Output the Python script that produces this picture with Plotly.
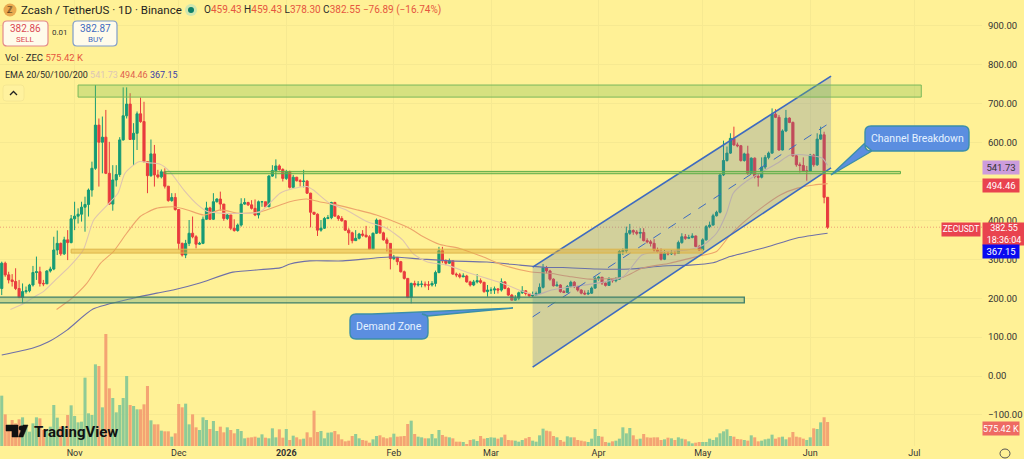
import pandas as pd
import plotly.graph_objects as go

# ---------- data ----------
close = [
290,260,247,243,225,202,217,219,234,266,
268,238,237,270,275,324,341,314,350,343,
404,411,416,434,441,478,534,645,601,614,
521,442,504,518,607,669,699,608,624,674,
654,551,515,571,517,512,525,488,451,459,
428,341,311,341,367,358,339,341,403,432,
403,448,455,442,405,414,380,374,388,442,
446,440,431,414,448,448,435,514,528,540,
531,508,525,485,511,502,500,501,470,421,
416,375,380,405,407,446,411,405,399,375,
368,348,354,365,362,358,326,367,401,368,
350,341,302,305,294,268,251,202,238,234,
236,236,234,234,238,266,322,296,290,296,
262,260,255,257,242,234,242,245,241,217,
221,221,224,221,242,225,208,195,200,214,
219,212,206,208,212,228,278,270,249,232,
234,217,215,230,241,230,221,213,211,213,
226,251,254,239,233,249,245,249,320,322,
367,374,370,367,369,348,345,341,324,320,
300,316,314,316,315,343,358,354,356,360,
333,324,350,384,388,412,421,517,554,573,
611,594,592,554,571,521,560,513,511,537,
562,573,673,665,581,630,663,652,566,543,
541,527,527,568,543,609,620,459.43,382.55]
high = [
294,294,268,262,277,247,238,230,237,283,
307,281,247,272,281,358,374,343,358,375,
414,448,431,448,461,482,551,748,662,667,
684,602,542,542,614,742,742,727,650,680,
716,705,551,608,594,530,531,534,488,470,
470,428,343,350,401,410,362,345,410,448,
435,470,457,474,442,418,414,403,392,457,
457,448,452,454,451,450,448,517,542,557,
544,534,530,528,517,512,506,530,504,471,
421,418,401,409,414,448,448,414,411,401,
380,371,375,368,375,386,362,369,405,401,
371,356,341,311,305,296,271,251,240,245,
244,245,243,244,244,271,332,332,300,302,
296,266,265,264,260,245,247,262,251,242,
234,228,230,226,251,244,228,211,208,217,
231,221,214,217,217,238,288,283,273,251,
243,236,221,234,245,244,232,223,220,221,
230,256,257,254,240,254,250,254,324,328,
384,391,377,375,380,380,354,350,352,330,
328,324,320,324,322,348,367,365,363,367,
361,337,354,388,397,417,425,521,605,590,
624,641,600,594,574,592,562,562,520,562,
568,577,688,686,671,634,684,665,654,568,
549,562,540,571,571,624,641,628,459.43]
low = [
208,255,238,230,221,200,187,212,215,230,
247,230,231,238,266,272,311,309,311,298,
341,375,392,397,371,410,461,530,487,521,
519,440,425,487,512,605,662,607,542,581,
651,549,470,512,487,508,508,482,448,448,
425,324,307,303,334,354,328,337,339,401,
401,401,446,425,399,401,375,371,371,384,
440,437,428,411,405,435,434,446,512,508,
528,500,504,482,485,500,487,485,468,382,
414,360,371,378,403,403,410,399,397,373,
337,341,347,351,358,356,326,326,365,365,
348,320,274,298,285,266,248,200,187,228,
230,228,228,221,230,230,264,290,285,288,
260,254,251,254,240,230,231,238,237,214,
204,211,211,212,217,223,206,194,193,195,
211,207,204,204,206,211,225,264,245,230,
230,214,213,214,228,226,217,210,208,208,
211,224,245,234,230,232,240,241,247,311,
316,363,363,362,354,346,341,333,320,316,
297,298,310,311,310,314,340,350,352,354,
331,322,322,348,380,387,410,418,514,551,
571,592,588,551,551,517,520,508,487,508,
532,557,571,663,579,580,627,650,564,538,
523,526,502,526,538,540,607,444,378.30]
volume_k = [
1208,760,504,624,544,640,688,464,344,544,
688,664,384,384,464,984,680,464,464,744,
976,720,568,584,1640,784,744,1960,1920,928,
2688,1384,1152,808,984,1152,1680,984,960,880,
880,1000,1440,616,520,520,368,352,352,224,
304,1008,928,1016,520,760,448,384,688,624,
408,600,360,464,328,448,384,304,408,360,
184,200,208,224,200,280,200,184,424,208,
400,200,408,144,248,208,160,176,328,208,
848,336,360,184,320,328,360,280,160,112,
128,240,288,184,144,128,80,160,240,256,
208,184,208,296,224,232,240,528,608,288,
224,208,184,184,288,184,384,264,224,208,
184,104,104,96,48,144,160,120,240,176,
192,208,200,176,208,272,144,136,128,104,
144,184,216,128,104,256,416,368,352,240,
208,144,104,232,208,208,144,128,112,96,
176,408,240,224,96,80,112,128,176,448,
304,432,256,160,176,288,208,200,208,208,
144,160,200,184,144,208,176,160,112,64,
80,96,96,96,176,144,208,304,352,400,
240,224,168,160,144,128,256,208,112,128,
160,176,272,176,208,224,160,208,336,224,
208,176,144,208,424,408,568,690,575.42]
first_open = 225
first_date = "2025-10-11"

ema20_day = [3,7,10,12.5,16,20,24,27,31,34,36,40,43,46,49,53,57,60,65,69,75,80.7,84.5,88.4,90.3,95,99.8,105.7,111.4,116,119,123,128.8,135.5,140.3,145,150.8,154.6,158.5,172.9,179.6,185,191,198,202.7,206.5,209.4,211.3,215,220,224,227.7,233.4,237,238.5]
ema20_val = [171,187,204,217,247,281,324,401,440,470,521,551,548,545,525,478,440,422,418,418,422,470,482,487,478,444,427,397,380,350,315,294,285,264,251,238,217,208,220,240,255,311,320,324,337,367,419,470,500,527,547,568,567,560,541.73]
ema50_day = [16.3,20.7,25,29,32.7,36.5,40.4,45,50,54,58.7,63.5,69,75,83.5,88.4,92,97,103,108.5,113,118,122,126.8,132.5,139,145,152.7,158.5,164,170,179.6,185,193,200.8,206.5,210,214,220,225,229.8,234.6,238.5]
ema50_val = [171,200,238,290,320,367,410,431,435,427,414,427,418,422,448,455,448,440,427,414,399,380,358,338,328,307,285,268,264,256,249,254,277,290,307,320,358,393,436,466,483,491,494.46]
ema200_day = [0.5,9.5,14,19.3,26.8,38.3,45.2,49.9,57.6,67.1,80.7,83.6,89.3,98.8,112.4,121,129.6,140.3,149.9,157.6,162.2,172,181.6,191,198.8,205.5,210.4,220,229.7,238.5]
ema200_val = [54,72,88,118,172,200,213,221,239,267,278,288,296,296,306,301,296,293,285,279,279,275,275,283,285,291,307,329,355,367.15]

month_ticks = ["2025-11-01","2025-12-01","2026-01-01","2026-02-01","2026-03-01","2026-04-01","2026-05-01","2026-06-01","2026-07-01"]
month_labels = ["Nov","Dec","<b>2026</b>","Feb","Mar","Apr","May","Jun","Jul"]
price_ticks = [900,800,700,600,500,400,300,200,100,0,-100]
price_labels = ["900.00","800.00","700.00","600.00"," ","400.00","300.00","200.00","100.00","0.00","\u2212100.00"]

zones = [
    ("2025-11-02","2026-07-03",748,717,"rgba(120,190,80,0.30)","#79B85A",1.0),
    ("2025-11-27","2026-06-27",526,520,"rgba(120,190,80,0.40)","#5FAE4A",1.0),
    ("2025-10-31","2026-05-01",326,316,"rgba(225,170,50,0.45)","#DDB54A",1.0),
    ("2025-10-01","2026-05-13",203,188,"rgba(110,170,130,0.40)","#3F7F6A",1.3),
]
channel_x = ["2026-03-13","2026-06-07"]
channel_upper = [280,771]
channel_mid = [152,653]
channel_lower = [23,535]
last_close = 382.55

# ---------- helpers ----------
W, H = 982, 446
def px(v): return v / W
def py(v): return 1 - v / H
BG = "#FFF196"
FONT = "Roboto, 'Noto Sans', sans-serif"
UP, DOWN = "#169B75", "#E83B3E"

opens = [first_open] + close[:-1]
dates = pd.date_range(first_date, periods=len(close), freq="D")
base = pd.Timestamp(first_date) - pd.Timedelta(hours=12)
def day_x(days): return [base + pd.Timedelta(days=d) for d in days]
vol_colors = ["#8FCB96" if c >= o else "#F4A473" for o, c in zip(opens, close)]

fig = go.Figure()
fig.add_bar(x=dates, y=volume_k, marker=dict(color=vol_colors, line_width=0), yaxis="y2", hoverinfo="skip")
fig.add_scatter(x=day_x(ema200_day), y=ema200_val, mode="lines", line=dict(color="#6F70A8", width=1.1, shape="spline", smoothing=0.6), hoverinfo="skip")
fig.add_scatter(x=day_x(ema50_day), y=ema50_val, mode="lines", line=dict(color="#EDA56B", width=1.1, shape="spline", smoothing=0.6), hoverinfo="skip")
fig.add_scatter(x=day_x(ema20_day), y=ema20_val, mode="lines", line=dict(color="#DFC5AF", width=1.1, shape="spline", smoothing=0.6), hoverinfo="skip")
fig.add_candlestick(x=dates, open=opens, high=high, low=low, close=close,
    increasing=dict(line=dict(color=UP, width=1), fillcolor=UP),
    decreasing=dict(line=dict(color=DOWN, width=1), fillcolor=DOWN),
    whiskerwidth=0, hoverinfo="skip")

shapes = []
# last-price dotted line
shapes.append(dict(type="line", xref="paper", x0=0, x1=1, yref="y", y0=last_close, y1=last_close,
                   line=dict(color="#E98A6E", width=0.8, dash="1px,2px"), layer="below"))
# channel
shapes.append(dict(type="path", xref="x", yref="y",
    path=f"M {channel_x[0]},{channel_upper[0]} L {channel_x[1]},{channel_upper[1]} L {channel_x[1]},{channel_lower[1]} L {channel_x[0]},{channel_lower[0]} Z",
    fillcolor="rgba(90,120,170,0.27)", line_width=0))
for arr, dash in ((channel_upper, "solid"), (channel_lower, "solid"), (channel_mid, "dash")):
    shapes.append(dict(type="line", xref="x", yref="y", x0=channel_x[0], x1=channel_x[1], y0=arr[0], y1=arr[1],
                       line=dict(color="#3E6BC0", width=1.6 if dash == "solid" else 1, dash=dash)))
# zones
for x0, x1, top, bottom, fill, edge, lw in zones:
    shapes.append(dict(type="rect", xref="x", yref="y", x0=x0, x1=x1, y0=bottom, y1=top,
                       fillcolor=fill, line=dict(color=edge, width=lw)))

def rounded(x0, y0, x1, y1, r, tail=None):
    """Rounded rectangle path in page pixels; tail = points inserted on the named edge."""
    def p(a, b): return f"{px(a):.5f},{py(b):.5f}"
    d = f"M {p(x0+r,y0)} "
    if tail and tail[0] == "top":
        for a, b in tail[1]:
            d += f"L {p(a,b)} "
    d += f"L {p(x1-r,y0)} Q {p(x1,y0)} {p(x1,y0+r)} L {p(x1,y1-r)} Q {p(x1,y1)} {p(x1-r,y1)} "
    d += f"L {p(x0+r,y1)} Q {p(x0,y1)} {p(x0,y1-r)} "
    if tail and tail[0] == "left":
        for a, b in tail[1]:
            d += f"L {p(a,b)} "
    d += f"L {p(x0,y0+r)} Q {p(x0,y0)} {p(x0+r,y0)} Z"
    return d

def panel(path, fill, edge, width=1.2):
    shapes.append(dict(type="path", xref="paper", yref="paper", path=path, fillcolor=fill, line=dict(color=edge, width=width)))

# callouts
panel(rounded(865,126,969,151,6,("left",[(872,151),(831,175),(865,143)])), "#5B8EE0", "#3B8FA8", 1.4)
panel(rounded(350,314,428,339,6,("top",[(372,314),(513,308),(428,316)])), "#5B8EE0", "#3B8FA8", 1.4)
# sell / buy / collapse buttons
panel(rounded(3,21,48,46,4), "#FFFBEA", "#E48A8A")
panel(rounded(73,21,117,46,4), "#FFFBEA", "#7F9CCB")
panel(rounded(3,85,24,101,3), "#FFF29E", "#F2E590", 0.8)
panel(f"M {px(10)},{py(95)} L {px(13.5)},{py(91.5)} L {px(17)},{py(95)}", "rgba(0,0,0,0)", "#222222", 1.3)
# logo circle and status dot
def dot(cx, cy, r, fill):
    shapes.append(dict(type="circle", xref="paper", yref="paper", x0=px(cx-r), x1=px(cx+r),
                       y0=py(cy+r), y1=py(cy-r), fillcolor=fill, line_width=0))
dot(10, 10, 6.5, "#E9A94F")
dot(191, 10, 6, "#CFE6B0")
dot(191, 10, 3, "#0F7F68")
# TradingView mark
panel(f"M {px(6)},{py(425)} L {px(18)},{py(425)} L {px(18)},{py(437)} L {px(12)},{py(437)} L {px(12)},{py(431)} L {px(6)},{py(431)} Z", "#111111", "#111111", 0.5)
dot(21.3, 428, 2.6, "#111111")
panel(f"M {px(23)},{py(425)} L {px(28)},{py(425)} L {px(23)},{py(437)} L {px(18.5)},{py(437)} Z", "#111111", "#111111", 0.5)
# settings glyph
shapes.append(dict(type="circle", xref="paper", yref="paper", x0=px(1000), x1=px(1010), y0=py(458), y1=py(449),
                   line=dict(color="#555555", width=1), fillcolor="rgba(0,0,0,0)"))

anns = []
def label(x, y, text, size=10, color="#2A2A2A", anchor="left"):
    anns.append(dict(xref="paper", yref="paper", x=px(x), y=py(y), text=text, showarrow=False,
                     xanchor=anchor, yanchor="middle", align=anchor, borderpad=0,
                     font=dict(family=FONT, size=size, color=color)))
def badge(x, y, w, h, text, bg, color="#FFFFFF", size=9.5):
    anns.append(dict(xref="paper", yref="paper", x=px(x), y=py(y), text=text, showarrow=False,
                     xanchor="left", yanchor="top", align="center", valign="middle", width=w, height=h,
                     bgcolor=bg, borderpad=0, font=dict(family=FONT, size=size, color=color)))

label(10, 10, "<b>\u2124</b>", 9, "#3A2A10", "center")
label(20, 10, "Zcash / TetherUS \u00b7 1D \u00b7 Binance", 11.5, "#1E1E1E")
R = "#E5573F"
label(203, 10, f"O<span style='color:{R}'>459.43</span> H<span style='color:{R}'>459.43</span> L<span style='color:{R}'>378.30</span> C<span style='color:{R}'>382.55</span> <span style='color:{R}'>\u221276.89 (\u221216.74%)</span>", 10)
label(25.5, 29, "382.86", 10, "#DB4A55", "center")
label(25.5, 39, "SELL", 8, "#DB4A55", "center")
label(60, 33, "0.01", 8, "#333333", "center")
label(95, 29, "382.87", 10, "#3F6CC0", "center")
label(95, 39, "BUY", 8, "#3F6CC0", "center")
label(4, 58, f"Vol \u00b7 ZEC <span style='color:{R}'>575.42 K</span>", 9.5)
label(4, 75, "EMA 20/50/100/200 <span style='color:#DCC6B6'>541.73</span> <span style='color:#E0604F'>494.46</span> <span style='color:#3B3BA8'>367.15</span>", 9)
label(917, 138, "Channel Breakdown", 10.5, "#E6F2FF", "center")
label(389, 326, "Demand Zone", 10.5, "#E6F2FF", "center")
label(33, 432, "<b>TradingView</b>", 15, "#111111")

badge(982, 160, 36, 13, "541.73", "#CC9CDC", "#333333")
badge(982, 178, 36, 13, "494.46", "#E9434F")
badge(941, 222, 38, 12.5, "ZECUSDT", "#E9434F", size=8.5)
badge(982, 222, 42, 21.5, "382.55<br>18:36:04", "#E9434F", size=9)
badge(982, 244, 36, 13, "367.15", "#0A0AF0")
badge(982, 421, 36, 13, "575.42 K", "#EE6A63", size=9)

fig.update_layout(
    width=1024, height=459, autosize=False,
    margin=dict(l=0, r=42, t=0, b=13, pad=0, autoexpand=False),
    paper_bgcolor=BG, plot_bgcolor=BG,
    showlegend=False, bargap=0.12, boxgap=0.12, dragmode=False, hovermode=False,
    shapes=shapes, annotations=anns,
    font=dict(family=FONT, size=9.5, color="#333333"),
    xaxis=dict(type="date", range=["2025-10-10 12:00", "2026-07-20 12:00"], rangeslider=dict(visible=False),
               tickmode="array", tickvals=month_ticks, ticktext=month_labels, showgrid=True, gridcolor="#F6E991",
               gridwidth=1, ticks="", zeroline=False, showline=False, automargin=False,
               tickfont=dict(family=FONT, size=9, color="#333333")),
    yaxis=dict(side="right", range=[-179.9, 966.6], tickmode="array", tickvals=price_ticks, ticktext=price_labels,
               showgrid=True, gridcolor="#F6E991", gridwidth=1, zeroline=False, showline=False, automargin=False,
               ticks="outside", ticklen=3, tickcolor=BG, tickfont=dict(family=FONT, size=9.5, color="#333333")),
    yaxis2=dict(overlaying="y", side="right", range=[0, 10704], visible=False, showgrid=False),
)

fig.write_html("out.html", config=dict(displayModeBar=False, staticPlot=True),
               post_script="document.body.style.margin='0';document.body.style.overflow='hidden';document.body.style.background='#FFF196';")
